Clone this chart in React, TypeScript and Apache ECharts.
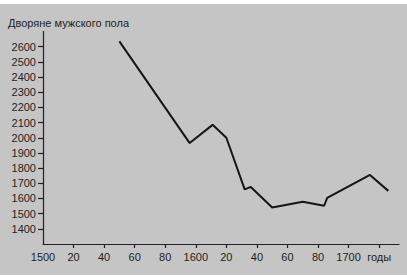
import React, { useEffect, useRef } from "react";
import * as echarts from "echarts";

const title = "Дворяне мужского пола";
const years = [1550, 1596, 1611, 1620, 1632, 1636, 1650, 1670, 1684, 1686, 1714, 1726];
const nobles = [2635, 1965, 2085, 2000, 1660, 1676, 1540, 1578, 1552, 1604, 1755, 1650];
const xTickValues = [1500, 1520, 1540, 1560, 1580, 1600, 1620, 1640, 1660, 1680, 1700, 1720];
const yTickValues = [1400, 1500, 1600, 1700, 1800, 1900, 2000, 2100, 2200, 2300, 2400, 2500, 2600];
const xUnitLabel = "годы";

export default function App() {
  const ref = useRef<HTMLDivElement>(null);
  useEffect(() => {
    if (!ref.current) return;
    const chart = echarts.init(ref.current, undefined, { renderer: "svg" });
    const font = "'Liberation Sans', Arial, sans-serif";
    chart.setOption({
      animation: false,
      backgroundColor: "transparent",
      title: {
        text: title,
        left: 8,
        top: 17,
        padding: 0,
        textStyle: { fontSize: 11, fontWeight: "normal", color: "#1e1e1e", fontFamily: font },
      },
      grid: { left: 43, right: 8, top: 31.5, bottom: 35 },
      xAxis: {
        type: "value",
        min: 1500,
        max: 1733,
        interval: 20,
        splitLine: { show: false },
        axisLine: { lineStyle: { color: "#222", width: 1.2 } },
        axisTick: {
          length: 4,
          lineStyle: { color: "#222", width: 1.2 },
          customValues: xTickValues.slice(1),
        },
        axisLabel: {
          customValues: xTickValues,
          margin: 7,
          fontSize: 11,
          color: "#1e1e1e",
          fontFamily: font,
          formatter: (v: number) => {
            if (v === 1720) return xUnitLabel;
            if (v % 100 === 0) return String(v);
            return String(v % 100);
          },
        },
      },
      yAxis: {
        type: "value",
        min: 1300,
        max: 2700,
        interval: 100,
        splitLine: { show: false },
        axisLine: { lineStyle: { color: "#222", width: 1.2 } },
        axisTick: {
          length: 5,
          lineStyle: { color: "#222", width: 1.2 },
          customValues: yTickValues,
        },
        axisLabel: {
          customValues: yTickValues,
          margin: 7,
          fontSize: 11,
          color: "#1e1e1e",
          fontFamily: font,
          formatter: (v: number) => String(v),
        },
      },
      series: [
        {
          type: "line",
          data: years.map((y, i) => [y, nobles[i]]),
          showSymbol: false,
          lineStyle: { color: "#151515", width: 2 },
        },
      ],
    });
    return () => chart.dispose();
  }, []);
  return (
    <div style={{ position: "absolute", left: 0, top: 0, width: 407, height: 279, background: "#fff" }}>
      <div style={{ position: "absolute", left: 0, top: 4, width: 407, height: 271, background: "#c5c5c5" }} />
      <div ref={ref} style={{ position: "absolute", left: 0, top: 0, width: 407, height: 279 }} />
    </div>
  );
}
